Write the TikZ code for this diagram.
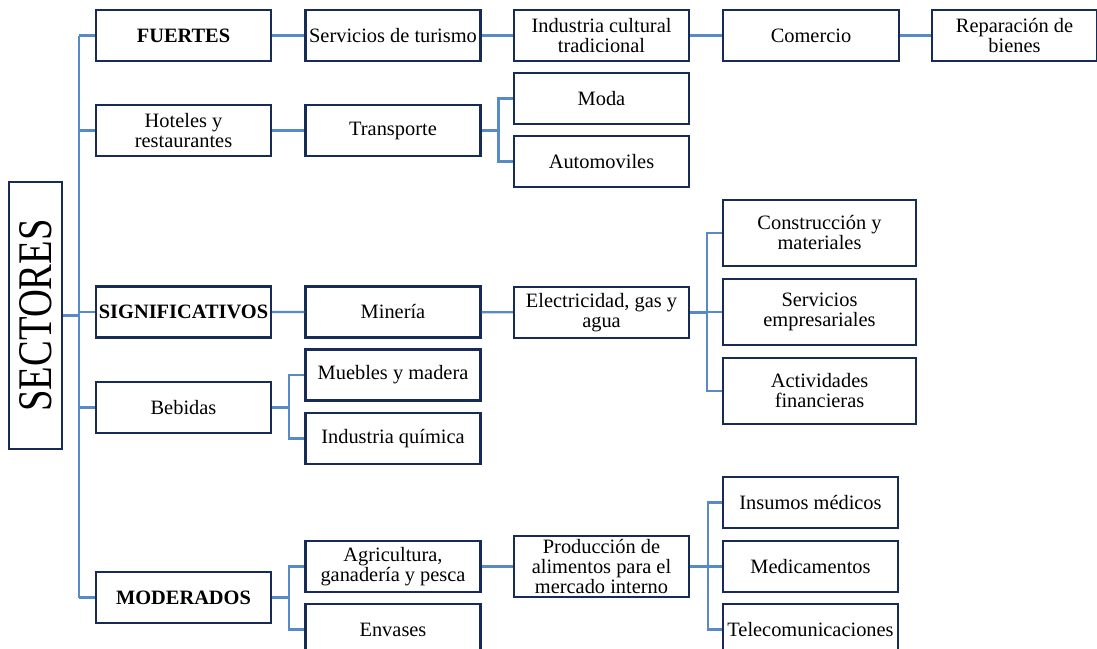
\documentclass[tikz,border=0pt]{standalone}
\usepackage{fontspec}
\setmainfont{Liberation Serif}
\usepackage{graphicx}
\definecolor{boxline}{RGB}{22,43,86}
\definecolor{linkblue}{RGB}{88,138,200}
\tikzset{
  sbox/.style={draw=boxline, line width=1.1pt, fill=white, align=center, inner sep=1pt,
    minimum width=87.5pt, minimum height=25.5pt, font=\fontsize{10.2}{10}\selectfont},
  tall/.style={minimum height=33pt},
  wide/.style={minimum width=96.5pt},
  link/.style={draw=linkblue, line width=1.2pt},
}

\begin{document}
\begin{tikzpicture}[x=0.5pt, y=-0.5pt]
    \useasboundingbox (0,0) rectangle (1097,648);

    % root box
    \node[sbox, rotate=90, minimum width=133.5pt, minimum height=26.5pt,
      font=\fontsize{19.3}{20}\selectfont] (sectores) at (35.5,315.5) {\scalebox{1}[1.25]{SECTORES}};
    \coordinate (trunk) at (79,0);

    % first column
    \node[sbox] (fuertes) at (183.5,35.5) {\textbf{FUERTES}};
    \node[sbox] (hoteles) at (183.5,130.5) {Hoteles y\\restaurantes};
    \node[sbox] (signif) at (183.5,312) {\textbf{SIGNIFICATIVOS}};
    \node[sbox] (bebidas) at (183.5,407.5) {Bebidas};
    \node[sbox] (moderados) at (183.5,597.5) {\textbf{MODERADOS}};

    % second column
    \node[sbox] (turismo) at (393,35.5) {Servicios de turismo};
    \node[sbox] (transporte) at (393,130.5) {Transporte};
    \node[sbox] (mineria) at (393,312) {Minería};
    \node[sbox] (muebles) at (393,375) {Muebles y madera};
    \node[sbox] (quimica) at (393,438.5) {Industria química};
    \node[sbox] (agricultura) at (393,566.5) {Agricultura,\\ganadería y pesca};
    \node[sbox] (envases) at (393,629.5) {Envases};

    % third column
    \node[sbox] (cultural) at (601.5,35.5) {Industria cultural\\tradicional};
    \node[sbox] (moda) at (601.5,98.5) {Moda};
    \node[sbox] (automoviles) at (601.5,161.5) {Automoviles};
    \node[sbox] (electricidad) at (601.5,312.5) {Electricidad, gas y\\agua};
    \node[sbox, minimum height=30.5pt, inner sep=0pt] (produccion) at (601.5,566.5) {Producción de\\alimentos para el\\mercado interno};

    % fourth and fifth column
    \node[sbox, minimum width=88pt] (comercio) at (811,35.5) {Comercio};
    \node[sbox, minimum width=82.5pt] (reparacion) at (1014.5,35.5) {Reparación de\\bienes};
    \node[sbox, tall, wide] (construccion) at (819.5,233) {Construcción y\\materiales};
    \node[sbox, tall, wide] (empresariales) at (819.5,312) {Servicios\\empresariales};
    \node[sbox, tall, wide] (financieras) at (819.5,391) {Actividades\\financieras};
    \node[sbox] (insumos) at (810.5,502.5) {Insumos médicos};
    \node[sbox] (medicamentos) at (810.5,566.5) {Medicamentos};
    \node[sbox] (telecom) at (810.5,629.5) {Telecomunicaciones};

    % trunk
    \draw[link] (sectores.south) -- (sectores.south -| trunk);
    \draw[link] (fuertes.west -| trunk) -- (moderados.west -| trunk);
    \draw[link] (fuertes.west) -- (fuertes.west -| trunk);
    \draw[link] (hoteles.west) -- (hoteles.west -| trunk);
    \draw[link] (signif.west) -- (signif.west -| trunk);
    \draw[link] (bebidas.west) -- (bebidas.west -| trunk);
    \draw[link] (moderados.west) -- (moderados.west -| trunk);

    % straight chains
    \draw[link] (fuertes) -- (turismo) -- (cultural) -- (comercio) -- (reparacion);
    \draw[link] (hoteles) -- (transporte);
    \draw[link] (signif) -- (mineria) -- (electricidad);
    \draw[link] (agricultura) -- (produccion);

    % branches
    \draw[link] (transporte.east) -- ++(17,0) coordinate (bt);
    \draw[link] (bt) |- (moda.west);
    \draw[link] (bt) |- (automoviles.west);

    \draw[link] (electricidad.east) -- ++(17,0) coordinate (be);
    \draw[link] (be) |- (construccion.west);
    \draw[link] (be) |- (empresariales.west);
    \draw[link] (be) |- (financieras.west);

    \draw[link] (bebidas.east) -- ++(17,0) coordinate (bb);
    \draw[link] (bb) |- (muebles.west);
    \draw[link] (bb) |- (quimica.west);

    \draw[link] (moderados.east) -- ++(17,0) coordinate (bm);
    \draw[link] (bm) |- (agricultura.west);
    \draw[link] (bm) |- (envases.west);

    \draw[link] (produccion.east) -- ++(18,0) coordinate (bp);
    \draw[link] (bp) |- (insumos.west);
    \draw[link] (bp) |- (medicamentos.west);
    \draw[link] (bp) |- (telecom.west);
\end{tikzpicture}
\end{document}
